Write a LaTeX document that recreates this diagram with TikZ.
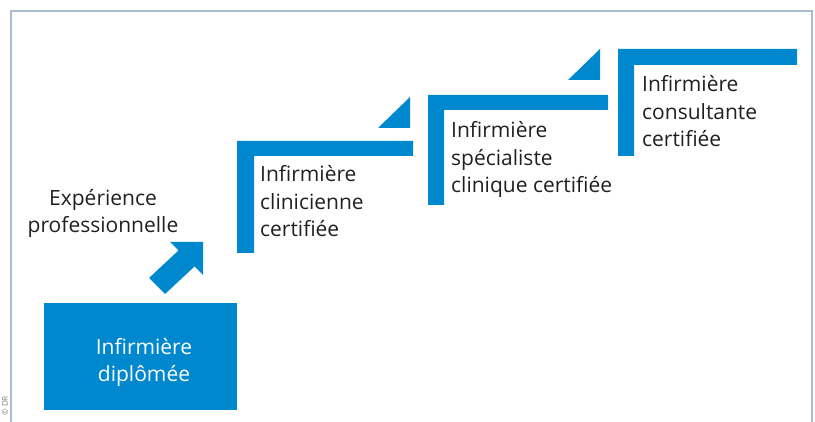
\documentclass[tikz,border=0pt]{standalone}
\usepackage{fontspec}
\setmainfont{Open Sans}
\usepackage{tikz}
\definecolor{stepblue}{HTML}{0088CF}
\definecolor{framegray}{HTML}{A9BCD3}
\definecolor{textdark}{HTML}{231F20}
\tikzset{
	stepbar/.style={fill=stepblue, draw=none},
	steplabel/.style={anchor=base west, align=left, inner sep=0pt, text=textdark, font=\fontsize{21}{27.5}\selectfont},
}

\begin{document}
\begin{tikzpicture}[x=1pt, y=-1pt]
			\useasboundingbox (0,0) rectangle (815,422);
			\draw [framegray, line width=1.2pt] (11,424) |- (812,11) -- (812,424);
			\node [rotate=90, anchor=east, inner sep=0pt, text=gray, font=\fontsize{8}{8}\selectfont] (credit) at (5,396) {\textcopyright{} DR};

			\node [stepbar, minimum width=193pt, minimum height=107pt, anchor=north west, inner sep=0pt] (diplomee) at (44,303) {};
			\node [steplabel, align=center, anchor=base, text=white] (diplomeetext) at (144,382) {Infirmière\\diplômée};

			\fill [stepblue] (170,242) -- (203,242) -- (203,275) -- (194.5,266.5) -- (165,294) -- (149,278) -- (178.5,250.5) -- cycle;
			\node [steplabel, align=center, anchor=base] (experience) at (103,233) {Expérience\\professionnelle};

			\fill [stepblue] (237,141) -- (413,141) -- (413,156) -- (254,156) -- (254,253) -- (237,253) -- cycle;
			\fill [stepblue] (378,128) -- (410,128) -- (410,97) -- cycle;
			\node [steplabel] (clinicienne) at (260,237) {Infirmière\\clinicienne\\certifiée};

			\fill [stepblue] (428,95) -- (608,95) -- (608,110) -- (444,110) -- (444,205) -- (428,205) -- cycle;
			\fill [stepblue] (568,80) -- (600,80) -- (600,49) -- cycle;
			\node [steplabel] (specialiste) at (451,193) {Infirmière\\spécialiste\\clinique certifiée};

			\fill [stepblue] (618,49) -- (797,49) -- (797,65) -- (634,65) -- (634,156) -- (618,156) -- cycle;
			\node [steplabel] (consultante) at (642,147) {Infirmière\\consultante\\certifiée};
		\end{tikzpicture}
\end{document}
